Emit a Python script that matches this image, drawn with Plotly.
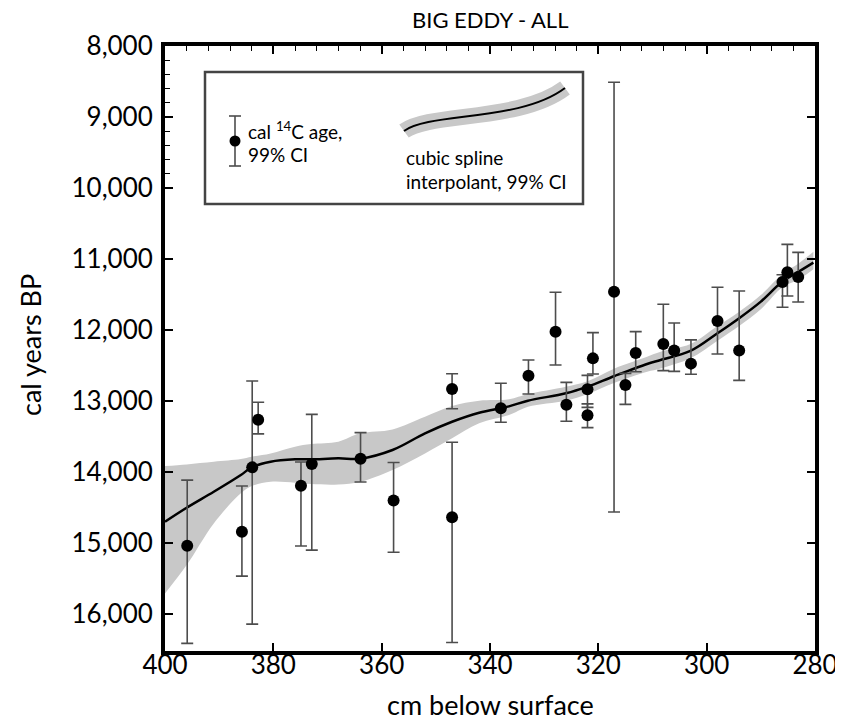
import plotly.graph_objects as go

# radiocarbon dates: depth (cm), calibrated age and 99% CI bounds (cal yr BP)
depth = [395.9, 385.8, 383.9, 382.8, 374.9, 372.9, 363.9, 357.8, 347.0, 347.0,
         338.0, 332.9, 327.9, 325.9, 322.0, 322.0, 321.0, 317.1, 315.0, 313.1,
         308.0, 306.0, 302.9, 298.0, 294.0, 286.0, 285.1, 283.1]
age = [15038, 14840, 13934, 13262, 14193, 13887, 13811, 14400, 12831, 14638,
       13103, 12643, 12023, 13051, 12835, 13200, 12399, 11460, 12775, 12323,
       12197, 12287, 12473, 11872, 12287, 11324, 11187, 11254]
age_lo = [14113, 14197, 12718, 13017, 13859, 13187, 13444, 13865, 12615, 13581,
          12750, 12422, 11468, 12737, 12638, 13040, 12037, 8511, 12610, 12023,
          11637, 11901, 12139, 11398, 11450, 11221, 10793, 10906]
age_hi = [16413, 15465, 16141, 13462, 15042, 15099, 14141, 15130, 13108, 16400,
          13299, 12901, 12493, 13285, 13089, 13374, 12620, 14563, 13047, 12588,
          12572, 12582, 12623, 12338, 12709, 11680, 11520, 11606]

# cubic spline interpolant with 99% CI band
spline_depth = [400, 396, 391, 386, 384, 380.5, 376, 373, 368, 364, 358, 352,
                347, 342, 336.5, 333, 326, 322, 317, 311, 308.5, 303, 298, 294,
                290, 286, 283, 280.3]
spline_age = [14700, 14503, 14278, 14042, 13934, 13854, 13821, 13821, 13807,
              13812, 13690, 13455, 13291, 13164, 13075, 12995, 12891, 12797,
              12647, 12478, 12422, 12295, 12046, 11834, 11600, 11318, 11178, 11051]
spline_lo = [13915, 13892, 13855, 13817, 13784, 13737, 13643, 13606, 13573,
             13455, 13399, 13221, 13070, 12995, 12975, 12901, 12798, 12720,
             12540, 12375, 12305, 12197, 11944, 11742, 11507, 11211, 11060, 10897]
spline_hi = [15709, 15310, 14723, 14300, 14197, 14136, 14150, 14169, 14175,
             14140, 13972, 13737, 13525, 13314, 13197, 13080, 12995, 12900,
             12742, 12587, 12540, 12398, 12150, 11944, 11708, 11398, 11290, 11145]

FONT = "Lato, sans-serif"
W, H = 843, 721
OFF = 8  # page body margin
# plot area in page pixels
X0, X1, Y0, Y1 = 165, 815, 46, 651


def px(x):
    return (x - X0) / (X1 - X0)


def py(y):
    return (Y1 - y) / (Y1 - Y0)


fig = go.Figure()

fig.add_trace(go.Scatter(x=spline_depth, y=spline_lo, mode="lines",
                         line=dict(width=0, shape="spline", color="#c8c8c8"),
                         hoverinfo="skip", showlegend=False))
fig.add_trace(go.Scatter(x=spline_depth, y=spline_hi, mode="lines",
                         line=dict(width=0, shape="spline", color="#c8c8c8"),
                         fill="tonexty", fillcolor="#c8c8c8",
                         hoverinfo="skip", showlegend=False))
fig.add_trace(go.Scatter(x=spline_depth, y=spline_age, mode="lines",
                         line=dict(color="black", width=2.5, shape="spline"),
                         showlegend=False))
fig.add_trace(go.Scatter(
    x=depth, y=age, mode="markers",
    marker=dict(color="black", size=12),
    error_y=dict(type="data", symmetric=False,
                 array=[h - a for h, a in zip(age_hi, age)],
                 arrayminus=[a - l for a, l in zip(age, age_lo)],
                 color="#4d4d4d", thickness=1.6, width=6),
    showlegend=False))

# empty trace so the overlay axes for minor ticks get drawn
fig.add_trace(go.Scatter(x=[], y=[], xaxis="x2", yaxis="y2", showlegend=False))

# legend box drawn by hand
shapes = [
    dict(type="rect", xref="paper", yref="paper",
         x0=px(205), x1=px(583), y0=py(204), y1=py(72),
         line=dict(color="#444444", width=2.5), fillcolor="white", layer="above"),
    dict(type="line", xref="paper", yref="paper",
         x0=px(235), x1=px(235), y0=py(116), y1=py(166),
         line=dict(color="#4d4d4d", width=1.6), layer="above"),
    dict(type="line", xref="paper", yref="paper",
         x0=px(229), x1=px(241), y0=py(116), y1=py(116),
         line=dict(color="#4d4d4d", width=1.6), layer="above"),
    dict(type="line", xref="paper", yref="paper",
         x0=px(229), x1=px(241), y0=py(166), y1=py(166),
         line=dict(color="#4d4d4d", width=1.6), layer="above"),
    dict(type="circle", xref="paper", yref="paper",
         x0=px(229.5), x1=px(240.5), y0=py(146.5), y1=py(135.5),
         line=dict(color="black", width=0), fillcolor="black", layer="above"),
]
curve = "M {},{} C {},{} {},{} {},{}".format(
    px(404), py(131), px(430), py(112), px(520), py(122), px(565), py(88))
shapes.append(dict(type="path", xref="paper", yref="paper", path=curve,
                   line=dict(color="#c8c8c8", width=16), layer="above"))
shapes.append(dict(type="path", xref="paper", yref="paper", path=curve,
                   line=dict(color="black", width=2), layer="above"))

LEG = 19
annotations = [
    dict(text="cal <sup>14</sup>C age,", x=px(246), y=py(130), xref="paper", yref="paper",
         xanchor="left", yanchor="middle", showarrow=False, font=dict(size=LEG)),
    dict(text="99% CI", x=px(246), y=py(154), xref="paper", yref="paper",
         xanchor="left", yanchor="middle", showarrow=False, font=dict(size=LEG)),
    dict(text="cubic spline", x=px(404), y=py(157), xref="paper", yref="paper",
         xanchor="left", yanchor="middle", showarrow=False, font=dict(size=LEG)),
    dict(text="interpolant, 99% CI", x=px(404), y=py(181), xref="paper", yref="paper",
         xanchor="left", yanchor="middle", showarrow=False, font=dict(size=LEG)),
    # axis titles
    dict(text="cm below surface", x=px(490), y=py(704), xref="paper", yref="paper",
         xanchor="center", yanchor="middle", showarrow=False, font=dict(size=27)),
    dict(text="cal years BP", x=px(31), y=py(345), xref="paper", yref="paper",
         xanchor="center", yanchor="middle", showarrow=False, textangle=-90,
         font=dict(size=27)),
    # chart title
    dict(text="BIG EDDY - ALL", x=px(490), y=py(20), xref="paper", yref="paper",
         xanchor="center", yanchor="middle", showarrow=False, font=dict(size=22)),
]

fig.update_layout(
    width=W, height=H,
    margin=dict(l=X0 - OFF, r=W + OFF - X1, t=Y0 - OFF, b=H + OFF - Y1),
    plot_bgcolor="white", paper_bgcolor="white",
    font=dict(family=FONT, color="black", size=26),
    xaxis=dict(range=[400, 280], tickvals=list(range(400, 279, -20)),
               ticks="inside", ticklen=8, tickwidth=1.5, tickcolor="black",
               showline=True, linewidth=4, linecolor="black", mirror="ticks",
               showgrid=False, zeroline=False, automargin=False,
               ticklabelstandoff=-12),
    yaxis=dict(range=[16520, 8000], tickvals=list(range(8000, 16001, 1000)),
               tickformat=",d",
               ticks="inside", ticklen=8, tickwidth=1.5, tickcolor="black",
               showline=True, linewidth=4, linecolor="black", mirror="ticks",
               showgrid=False, zeroline=False, automargin=False,
               ticklabelstandoff=3),
    xaxis2=dict(range=[400, 280], overlaying="x", side="top", anchor="y",
                tickvals=[v for v in range(396, 280, -4) if v % 20],
                ticks="inside", ticklen=5, tickwidth=1.2, tickcolor="black",
                showticklabels=False, showline=False, showgrid=False, zeroline=False),
    yaxis2=dict(range=[16520, 8000], overlaying="y", side="left", anchor="x",
                tickvals=[v for v in range(8200, 10000, 200) if v % 1000],
                ticks="inside", ticklen=5, tickwidth=1.2, tickcolor="black",
                showticklabels=False, showline=False, showgrid=False, zeroline=False),
    shapes=shapes,
    annotations=annotations,
)

fig.write_html("out.html")
